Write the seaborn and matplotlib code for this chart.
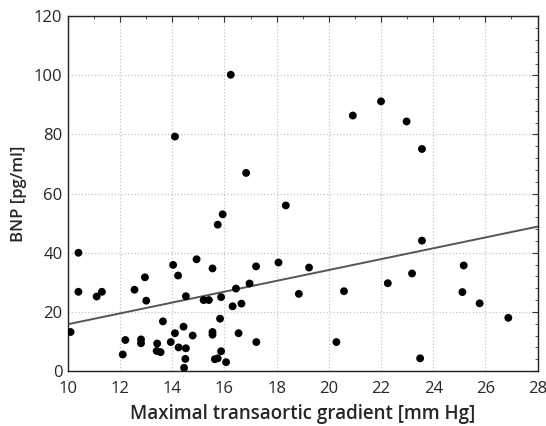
import numpy as np
import pandas as pd
import matplotlib
matplotlib.use("Agg")
import matplotlib.pyplot as plt
from matplotlib.ticker import MultipleLocator
import seaborn as sns

# data
gradient = [10.1, 10.4, 10.4, 11.1, 11.3, 12.1, 12.2, 12.55, 12.95, 13.0,
            12.8, 12.8, 13.42, 13.4, 13.55, 13.64, 13.94, 14.03, 14.1, 14.1,
            14.22, 14.24, 14.43, 14.52, 14.52, 14.45, 14.5, 14.78, 14.93, 15.2,
            15.4, 15.54, 15.54, 15.54, 15.74, 15.93, 15.87, 15.83, 15.87, 15.63,
            15.74, 16.06, 16.24, 16.31, 16.44, 16.54, 16.65, 16.83, 16.96, 17.21,
            17.22, 18.07, 18.35, 18.85, 19.24, 20.29, 20.58, 20.92, 22.0, 22.26,
            22.98, 23.19, 23.57, 23.5, 23.57, 25.12, 25.17, 25.78, 26.88]
bnp = [13.2, 40.0, 26.8, 25.2, 26.8, 5.6, 10.5, 27.5, 31.7, 23.8,
       10.7, 9.4, 9.3, 6.8, 6.4, 16.8, 9.8, 35.9, 79.3, 12.8,
       32.3, 8.0, 15.0, 7.7, 25.3, 1.1, 4.1, 12.0, 37.8, 24.0,
       24.0, 34.7, 13.2, 12.3, 49.5, 53.0, 25.0, 17.7, 6.7, 4.0,
       4.3, 3.0, 100.2, 21.9, 27.9, 12.8, 22.8, 67.0, 29.6, 35.4,
       9.8, 36.7, 56.0, 26.1, 35.0, 9.8, 27.0, 86.4, 91.2, 29.7,
       84.4, 33.0, 44.1, 4.3, 75.1, 26.7, 35.7, 22.9, 18.0]

df = pd.DataFrame({"gradient": gradient, "bnp": bnp})

sns.set_style("white")
plt.rcParams["font.family"] = ["Open Sans", "DejaVu Sans"]

fig = plt.figure(figsize=(5.46, 4.26), dpi=100)
ax = fig.add_axes([0.1245, 0.129, 0.86, 0.833])

# set limits first so the fitted line spans the whole axis
ax.set_xlim(10, 28)
ax.set_ylim(0, 120)

sns.regplot(data=df, x="gradient", y="bnp", ax=ax, ci=None, truncate=False,
            scatter_kws=dict(s=32, color="black", alpha=1, edgecolor="none",
                             zorder=3),
            line_kws=dict(color="#555555", lw=1.4, zorder=2))

ax.set_xlim(10, 28)
ax.set_ylim(0, 120)
ax.xaxis.set_major_locator(MultipleLocator(2))
ax.xaxis.set_minor_locator(MultipleLocator(1))
ax.yaxis.set_major_locator(MultipleLocator(20))
ax.yaxis.set_minor_locator(MultipleLocator(4))
ax.tick_params(which="both", direction="in", top=True, right=True,
               color="#333333", labelsize=12, pad=4)
ax.tick_params(axis="x", which="major", pad=7)
ax.tick_params(which="major", length=4, width=0.8)
ax.tick_params(which="minor", length=2.5, width=0.6)
ax.grid(True, which="major", linestyle=":", color="#c4c4c4", lw=0.9)
for s in ax.spines.values():
    s.set_color("#222222")
    s.set_linewidth(1.0)

ax.set_xlabel("Maximal transaortic gradient [mm Hg]", fontsize=13.5,
              fontweight="semibold", labelpad=5)
ax.set_ylabel("BNP [pg/ml]", fontsize=12, fontweight="semibold", labelpad=5)

fig.savefig("out.png", dpi=100)
